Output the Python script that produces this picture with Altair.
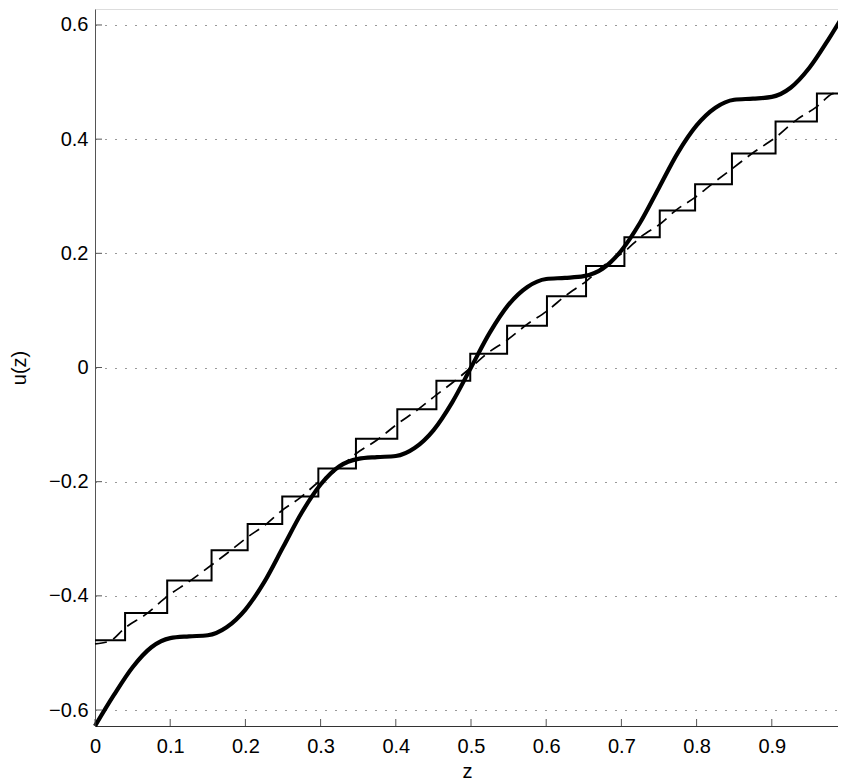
import altair as alt
import pandas as pd

# thick solid curve u(z)
z_thick = [0.0, 0.025, 0.05, 0.075, 0.1, 0.125, 0.15, 0.175, 0.2, 0.225,
           0.25, 0.275, 0.3, 0.325, 0.35, 0.375, 0.4, 0.425, 0.45, 0.475,
           0.5, 0.525, 0.55, 0.575, 0.6, 0.625, 0.65, 0.675, 0.7, 0.725,
           0.75, 0.775, 0.8, 0.825, 0.85, 0.875, 0.9, 0.925, 0.95, 0.975, 1.0]
u_thick = [-0.628, -0.574, -0.525, -0.490, -0.474, -0.471, -0.469, -0.455, -0.424, -0.376,
           -0.315, -0.254, -0.205, -0.173, -0.160, -0.157, -0.155, -0.141, -0.110, -0.061,
           0.0, 0.061, 0.110, 0.141, 0.155, 0.157, 0.160, 0.173, 0.205, 0.254,
           0.315, 0.376, 0.424, 0.455, 0.469, 0.471, 0.474, 0.490, 0.525, 0.574, 0.628]

# thin staircase: z where each level starts, and the level
z_steps = [0.0, 0.040, 0.096, 0.155, 0.203, 0.249, 0.297, 0.347, 0.402, 0.454,
           0.499, 0.548, 0.601, 0.653, 0.704, 0.751, 0.798, 0.847, 0.905, 0.960, 1.0]
u_steps = [-0.478, -0.430, -0.373, -0.320, -0.274, -0.226, -0.177, -0.125, -0.073, -0.023,
           0.024, 0.073, 0.125, 0.178, 0.228, 0.275, 0.321, 0.375, 0.431, 0.480, 0.480]

# dashed curve
z_dash = [0.0, 0.02, 0.04, 0.068, 0.096, 0.125, 0.155, 0.179, 0.203, 0.226,
          0.249, 0.273, 0.297, 0.322, 0.347, 0.375, 0.402, 0.428, 0.454, 0.477,
          0.5, 0.523, 0.548, 0.574, 0.601, 0.627, 0.653, 0.678, 0.704, 0.727,
          0.751, 0.774, 0.798, 0.822, 0.847, 0.876, 0.905, 0.932, 0.960, 0.98, 1.0]
u_dash = [-0.484, -0.479, -0.456, -0.432, -0.401, -0.375, -0.346, -0.322, -0.297, -0.276,
          -0.250, -0.228, -0.201, -0.179, -0.151, -0.127, -0.099, -0.075, -0.048, -0.025,
          0.0, 0.026, 0.048, 0.075, 0.099, 0.127, 0.151, 0.180, 0.203, 0.230,
          0.251, 0.277, 0.298, 0.323, 0.348, 0.377, 0.403, 0.433, 0.457, 0.479, 0.485]

x_ticks = [0, 0.1, 0.2, 0.3, 0.4, 0.5, 0.6, 0.7, 0.8, 0.9, 1]
y_ticks = [-0.6, -0.4, -0.2, 0, 0.2, 0.4, 0.6]

# plot area: the x axis runs 752px but the page only has room for 743
W, H = 743, 717
XRANGE = 752
FONT = "Liberation Sans"

xscale = alt.Scale(domain=[0, 1], range=[0, XRANGE], nice=False, zero=False)
yscale = alt.Scale(domain=[-0.628, 0.628], nice=False, zero=False)

xaxis = alt.Axis(values=x_ticks, format=".1~f", grid=False, ticks=False,
                 domainColor="#333", labelFont=FONT, labelFontSize=20, labelColor="black",
                 labelPadding=10, titleFont=FONT, titleFontSize=20, titleFontWeight="normal",
                 titleColor="black", titlePadding=5, labelFlush=False, titleX=372)
yaxis = alt.Axis(values=y_ticks, format=".1~f", grid=True, gridDash=[1, 9], gridColor="#333",
                 gridWidth=1, ticks=False, domainColor="#555", labelFont=FONT, labelFontSize=20,
                 labelColor="black", labelPadding=7, titleFont=FONT, titleFontSize=20,
                 titleFontWeight="normal", titleColor="black", titlePadding=19)


def X(field):
    return alt.X(field, type="quantitative", scale=xscale, axis=xaxis, title="z")


def Y(field):
    return alt.Y(field, type="quantitative", scale=yscale, axis=yaxis, title="u(z)")


thick = pd.DataFrame({"z": z_thick, "u": u_thick})
steps = pd.DataFrame({"z": z_steps, "u": u_steps})
dash = pd.DataFrame({"z": z_dash, "u": u_dash})

step_line = alt.Chart(steps).mark_line(
    interpolate="step-after", color="black", strokeWidth=2
).encode(x=X("z"), y=Y("u"))

dash_line = alt.Chart(dash).mark_line(
    interpolate="monotone", color="black", strokeWidth=1.7, strokeDash=[12, 7]
).encode(x=X("z"), y=Y("u"))

thick_line = alt.Chart(thick).mark_line(
    interpolate="monotone", color="black", strokeWidth=4.2
).encode(x=X("z"), y=Y("u"))

# inward tick marks, matlab style
xt = alt.Chart(pd.DataFrame({"v": x_ticks})).mark_rule(color="#555", strokeWidth=1).encode(
    x=X("v"), y=alt.value(H), y2=alt.value(H - 7))
yt = alt.Chart(pd.DataFrame({"v": y_ticks})).mark_rule(color="#555", strokeWidth=1).encode(
    y=Y("v"), x=alt.value(0), x2=alt.value(7))

chart = alt.layer(step_line, dash_line, thick_line, xt, yt).properties(
    width=W, height=H,
    autosize=alt.AutoSizeParams(type="none"),
    padding={"left": 87, "top": 1, "right": 0, "bottom": 56},
).configure_view(stroke=None).configure(background="white")

chart.save("out.html", embed_options={"renderer": "svg", "actions": False})
